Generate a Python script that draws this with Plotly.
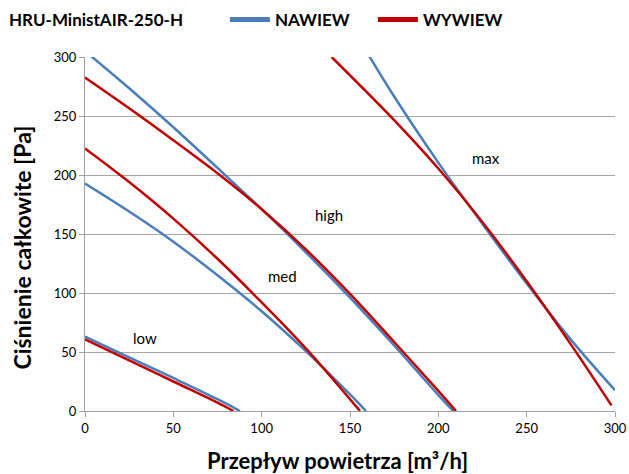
import plotly.graph_objects as go

# ---- data ----
# NAWIEW (supply) curves
naw_low_x = [0, 25, 50, 75, 87.7]
naw_low_y = [63, 45.5, 28, 10, 0]
naw_med_x = [0, 25, 50, 75, 100, 125, 150, 159]
naw_med_y = [192.7, 169, 143.5, 115, 84.5, 50.7, 14, 0]
naw_high_x = [0, 25, 50, 75, 100, 125, 150, 175, 200, 208.5]
naw_high_y = [305, 273.5, 240.5, 206, 171, 134.5, 96, 55.5, 13.5, 0]
naw_max_x = [160, 175, 200, 225, 250, 275, 300]
naw_max_y = [303, 266.5, 210.5, 158.5, 108, 60.5, 17.6]

# WYWIEW (exhaust) curves
wyw_low_x = [0, 25, 50, 75, 84]
wyw_low_y = [60.8, 43, 25, 7, 0]
wyw_med_x = [0, 25, 50, 75, 100, 125, 150, 155.7]
wyw_med_y = [222.5, 194, 163, 129, 92, 53, 10, 0]
wyw_high_x = [0, 25, 50, 75, 100, 125, 150, 175, 200, 210]
wyw_high_y = [282.6, 256.5, 229.5, 201.5, 171, 137, 99.2, 58.5, 17, 0]
wyw_max_x = [139.6, 175, 200, 225, 250, 275, 298]
wyw_max_y = [300, 246.5, 205.5, 160, 110, 56.5, 4.8]

speed_labels = ["low", "med", "high", "max"]
label_x = [34, 112, 138, 227]
label_y = [62, 114, 166, 214]

x_ticks = [0, 50, 100, 150, 200, 250, 300]
y_ticks = [0, 50, 100, 150, 200, 250, 300]

BLUE = "#4A7EBB"
RED = "#C00000"
FONT = "Lato"

fig = go.Figure()

blue_sets = [(naw_low_x, naw_low_y), (naw_med_x, naw_med_y),
             (naw_high_x, naw_high_y), (naw_max_x, naw_max_y)]
red_sets = [(wyw_low_x, wyw_low_y), (wyw_med_x, wyw_med_y),
            (wyw_high_x, wyw_high_y), (wyw_max_x, wyw_max_y)]

for xs, ys in blue_sets:
    fig.add_trace(go.Scatter(x=xs, y=ys, mode="lines", showlegend=False,
                             line=dict(color=BLUE, width=2.5, shape="spline", smoothing=1.0),
                             hoverinfo="skip"))
for xs, ys in red_sets:
    fig.add_trace(go.Scatter(x=xs, y=ys, mode="lines", showlegend=False,
                             line=dict(color=RED, width=2.5, shape="spline", smoothing=1.0),
                             hoverinfo="skip"))

# legend entries
fig.add_trace(go.Scatter(x=[None], y=[None], mode="lines", name="NAWIEW",
                         line=dict(color=BLUE, width=5)))
fig.add_trace(go.Scatter(x=[None], y=[None], mode="lines", name="WYWIEW",
                         line=dict(color=RED, width=5)))

for t, lx, ly in zip(speed_labels, label_x, label_y):
    fig.add_annotation(x=lx, y=ly, text=t, showarrow=False,
                       font=dict(family=FONT, size=15, color="#000000"))

fig.add_annotation(xref="paper", yref="paper", x=-0.148, y=1.105, xanchor="left",
                   yanchor="middle", text="<b>HRU-MinistAIR-250-H</b>", showarrow=False,
                   font=dict(family=FONT, size=17, color="#000000"))

# axis titles
fig.add_annotation(xref="paper", yref="paper", x=0.477, y=-0.14, xanchor="center",
                   yanchor="middle", text="<b>Przepływ powietrza [m³/h]</b>",
                   showarrow=False, font=dict(family=FONT, size=22, color="#000000"))
fig.add_annotation(xref="paper", yref="paper", x=-0.118, y=0.463, xanchor="center",
                   yanchor="middle", textangle=-90, text="<b>Ciśnienie całkowite [Pa]</b>",
                   showarrow=False, font=dict(family=FONT, size=23, color="#000000"))

fig.update_layout(
    width=629, height=474,
    margin=dict(l=85, r=14, t=57, b=63, autoexpand=False),
    paper_bgcolor="white", plot_bgcolor="white",
    font=dict(family=FONT, color="#000000"),
    legend=dict(orientation="h", x=0.264, y=1.105, xanchor="left", yanchor="middle",
                font=dict(family=FONT, size=17, color="#000000", weight="bold"),
                itemwidth=40, entrywidth=93, entrywidthmode="pixels",
                bgcolor="rgba(0,0,0,0)", traceorder="normal"),
    xaxis=dict(range=[0, 300], tickvals=x_ticks, ticks="outside", ticklen=5,
               tickcolor="#A0A0A0", showgrid=False, showline=True, linecolor="#A0A0A0",
               linewidth=1, zeroline=False, automargin=False,
               tickfont=dict(family=FONT, size=13, color="#000000")),
    yaxis=dict(range=[0, 300], tickvals=y_ticks, ticks="outside", ticklen=5,
               tickcolor="#A0A0A0", showgrid=True, gridcolor="#A6A6A6", gridwidth=1,
               showline=True, linecolor="#A0A0A0", linewidth=1, zeroline=False,
               automargin=False,
               tickfont=dict(family=FONT, size=13, color="#000000")),
)

fig.write_html("out.html")
